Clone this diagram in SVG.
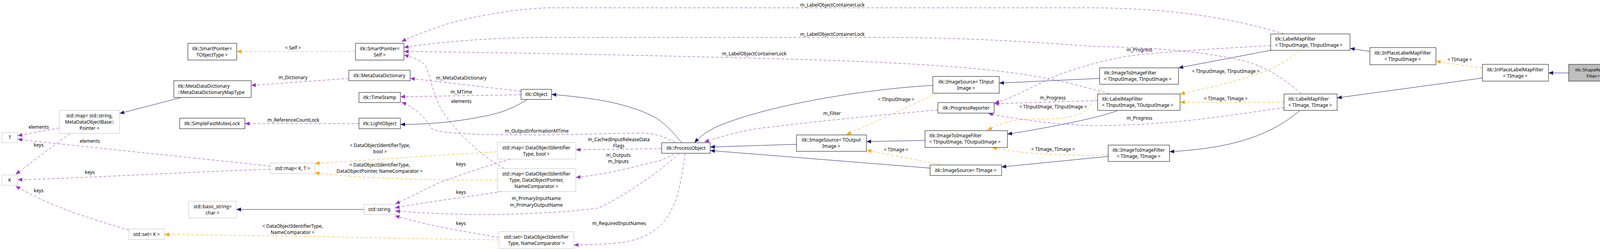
<svg xmlns="http://www.w3.org/2000/svg" width="4200" height="641" viewBox="0 0 4200 641">
<style>
text{font-family:"Noto Sans","Open Sans",sans-serif;font-size:12px;fill:#000}
.n rect{fill:#fff;stroke:#000;stroke-width:1}
.g rect{fill:#fff;stroke:#bfbfbf;stroke-width:1}
.c{text-anchor:middle}
.inh{fill:none;stroke:#191970;stroke-width:1}
.mem{fill:none;stroke:#9a32cd;stroke-width:1;stroke-dasharray:7,5}
.tpl{fill:none;stroke:#ffa500;stroke-width:1;stroke-dasharray:7,5}
</style>
<defs>
<marker id="ai" markerUnits="userSpaceOnUse" markerWidth="14" markerHeight="12" refX="12" refY="5" orient="auto"><path d="M0,0L12,5L0,10z" fill="#191970"/></marker>
<marker id="am" markerUnits="userSpaceOnUse" markerWidth="14" markerHeight="12" refX="12" refY="5" orient="auto"><path d="M0,0L12,5L0,10z" fill="#9a32cd"/></marker>
<marker id="at" markerUnits="userSpaceOnUse" markerWidth="14" markerHeight="12" refX="12" refY="5" orient="auto"><path d="M0,0L12,5L0,10z" fill="#ffa500"/></marker>
</defs>
<rect width="4200" height="641" fill="#fff"/>
<g id="connectors">
<path class="inh" marker-end="url(#ai)" d="M4016,187L3964,187"/>
<path class="inh" marker-end="url(#ai)" d="M3795,200L3423,251"/>
<path class="inh" marker-end="url(#ai)" d="M3507,132L3456,124"/>
<path class="inh" marker-end="url(#ai)" d="M3253,129L3017,174"/>
<path class="inh" marker-end="url(#ai)" d="M3328,283C3250,350 3150,380 2994,389"/>
<path class="inh" marker-end="url(#ai)" d="M2815,201L2558,213"/>
<path class="inh" marker-end="url(#ai)" d="M2862,283C2820,300 2700,325 2579,344"/>
<path class="inh" marker-end="url(#ai)" d="M2837,401L2564,428"/>
<path class="inh" marker-end="url(#ai)" d="M2368,360L2218,363"/>
<path class="inh" marker-end="url(#ai)" d="M2388,219C2250,226 2000,260 1846,320C1810,335 1790,352 1778,366"/>
<path class="inh" marker-end="url(#ai)" d="M2039,370L1818,377"/>
<path class="inh" marker-end="url(#ai)" d="M2381,431L1818,386"/>
<path class="inh" marker-end="url(#ai)" d="M1745,366C1720,335 1700,315 1677,301C1600,260 1500,250 1412,242"/>
<path class="inh" marker-end="url(#ai)" d="M1350,255C1310,280 1280,290 1240,298C1150,316 1080,319 1025,319"/>
<path class="inh" marker-end="url(#ai)" d="M464,250L306,291"/>
<path class="inh" marker-end="url(#ai)" d="M932,537L605,537"/>
<path class="tpl" marker-end="url(#at)" d="M3795,175L3676,157"/>
<path class="tpl" marker-end="url(#at)" d="M3287,262L3021,262"/>
<path class="tpl" marker-end="url(#at)" d="M3325,130C3290,160 3260,175 3246,180C3150,215 3080,228 3021,241"/>
<path class="tpl" marker-end="url(#at)" d="M2827,216C2810,240 2800,260 2787,275C2770,295 2740,304 2680,305C2620,304 2580,305 2528,334"/>
<path class="tpl" marker-end="url(#at)" d="M2837,397L2800,398C2700,398 2620,395 2540,378"/>
<path class="tpl" marker-end="url(#at)" d="M2406,422L2219,385"/>
<path class="tpl" marker-end="url(#at)" d="M2399,240L2167,345"/>
<path class="tpl" marker-end="url(#at)" d="M910,132L606,132"/>
<path class="tpl" marker-end="url(#at)" d="M1272,389L806,419"/>
<path class="tpl" marker-end="url(#at)" d="M1272,462C1050,462 900,455 806,443"/>
<path class="tpl" marker-end="url(#at)" d="M1277,615C1000,612 800,605 700,605L421,601"/>
<path class="mem" marker-end="url(#am)" d="M152,328L45,348"/>
<path class="mem" marker-end="url(#am)" d="M179,342L40,447"/>
<path class="mem" marker-end="url(#am)" d="M692,426C500,405 250,380 45,357"/>
<path class="mem" marker-end="url(#am)" d="M692,434C500,440 250,455 45,461"/>
<path class="mem" marker-end="url(#am)" d="M330,590C250,565 150,540 40,477"/>
<path class="mem" marker-end="url(#am)" d="M893,201L643,219"/>
<path class="mem" marker-end="url(#am)" d="M919,317L627,317"/>
<path class="mem" marker-end="url(#am)" d="M1334,234L1050,201"/>
<path class="mem" marker-end="url(#am)" d="M1334,243L1025,248"/>
<path class="mem" marker-end="url(#am)" d="M1728,365C1700,350 1680,342 1640,341L1400,346C1250,346 1130,345 1105,330C1090,300 1060,275 1028,262"/>
<path class="mem" marker-end="url(#am)" d="M1291,432C1230,400 1160,330 1129,279C1105,230 1100,190 1090,170C1080,155 1060,148 1034,141"/>
<path class="mem" marker-end="url(#am)" d="M3287,87C3150,45 3000,22 2800,20L1400,20C1300,25 1200,45 1146,61C1090,80 1050,95 1028,107"/>
<path class="mem" marker-end="url(#am)" d="M3331,240C3280,195 3240,175 3200,160C3080,130 2950,122 2800,119C2650,108 2500,98 2300,96L1400,96C1250,96 1100,110 1034,122"/>
<path class="mem" marker-end="url(#am)" d="M2840,240C2820,235 2750,215 2680,201C2600,185 2450,165 2100,154C1800,145 1400,136 1034,132"/>
<path class="mem" marker-end="url(#am)" d="M3253,117C3100,125 2950,135 2880,145C2800,160 2720,185 2680,205C2620,235 2580,255 2546,264"/>
<path class="mem" marker-end="url(#am)" d="M2810,258L2545,266"/>
<path class="mem" marker-end="url(#am)" d="M3287,276C3150,295 3000,322 2800,322C2700,320 2600,305 2530,291"/>
<path class="mem" marker-end="url(#am)" d="M2401,282C2250,295 2100,310 1936,330C1880,340 1840,352 1803,364"/>
<path class="mem" marker-end="url(#am)" d="M1693,381L1474,384"/>
<path class="mem" marker-end="url(#am)" d="M1726,395C1700,410 1680,415 1646,422C1580,440 1520,450 1474,455"/>
<path class="mem" marker-end="url(#am)" d="M1739,393C1700,430 1620,490 1534,533C1480,540 1420,545 1400,545C1250,555 1100,548 1012,541"/>
<path class="mem" marker-end="url(#am)" d="M1754,393C1745,460 1735,510 1721,533C1700,580 1660,615 1579,623C1540,627 1500,628 1469,628"/>
<path class="mem" marker-end="url(#am)" d="M1307,408C1230,430 1160,455 1120,470C1070,495 1040,510 1012,523"/>
<path class="mem" marker-end="url(#am)" d="M1285,491C1200,505 1100,516 1011,533"/>
<path class="mem" marker-end="url(#am)" d="M1277,609C1200,595 1100,580 1011,553"/>
</g>
<g id="edge-labels" class="c">
<text x="3737" y="157">&lt; TImage &gt;</text>
<text x="3138" y="257">&lt; TImage, TImage &gt;</text>
<text x="3138" y="187">&lt; TInputImage, TInputImage &gt;</text>
<text x="2696" y="278">&lt; TInputImage, TInputImage &gt;</text>
<text x="2696" y="387">&lt; TImage, TImage &gt;</text>
<text x="2294" y="388">&lt; TImage &gt;</text>
<text x="2294" y="259">&lt; TInputImage &gt;</text>
<text x="750" y="127">&lt; Self &gt;</text>
<text x="973" y="377">&lt; DataObjectIdentifierType,</text>
<text x="973" y="393">bool &gt;</text>
<text x="972" y="427">&lt; DataObjectIdentifierType,</text>
<text x="972" y="443">DataObjectPointer, NameComparator &gt;</text>
<text x="749" y="584">&lt; DataObjectIdentifierType,</text>
<text x="749" y="600">NameComparator &gt;</text>
<text x="99" y="330">elements</text>
<text x="99" y="376">keys</text>
<text x="230" y="366">elements</text>
<text x="230" y="446">keys</text>
<text x="99" y="493">keys</text>
<text x="750" y="203">m_Dictionary</text>
<text x="751" y="312">m_ReferenceCountLock</text>
<text x="1181" y="204">m_MetaDataDictionary</text>
<text x="1181" y="240">m_MTime</text>
<text x="1181" y="264">elements</text>
<text x="1374" y="340">m_OutputInformationMTime</text>
<text x="2131" y="17">m_LabelObjectContainerLock</text>
<text x="2131" y="92">m_LabelObjectContainerLock</text>
<text x="1931" y="142">m_LabelObjectContainerLock</text>
<text x="2917" y="132">m_Progress</text>
<text x="2695" y="255">m_Progress</text>
<text x="2917" y="307">m_Progress</text>
<text x="2130" y="295">m_Filter</text>
<text x="1584" y="362">m_CachedInputReleaseData</text>
<text x="1584" y="378">Flags</text>
<text x="1583" y="402">m_Outputs</text>
<text x="1583" y="418">m_Inputs</text>
<text x="1373" y="513">m_PrimaryInputName</text>
<text x="1373" y="530">m_PrimaryOutputName</text>
<text x="1180" y="425">keys</text>
<text x="1180" y="497">keys</text>
<text x="1180" y="577">keys</text>
<text x="1585" y="577">m_RequiredInputNames</text>
</g>
<g id="n-shape" class="n"><rect x="4016" y="165" width="179" height="43" style="fill:#bfbfbf"/><text class="c" x="4105" y="183" style="font-size:11.5px">itk::ShapeRelabelLabelMap</text><text class="c" x="4105" y="199" style="font-size:11.5px">Filter&lt; TImage &gt;</text></g>
<g id="n-inplace-timage" class="n"><rect x="3795" y="165" width="169" height="43"/><text class="c" x="3879" y="183">itk::InPlaceLabelMapFilter</text><text class="c" x="3879" y="199">&lt; TImage &gt;</text></g>
<g id="n-inplace-tinput" class="n"><rect x="3507" y="122" width="169" height="44"/><text class="c" x="3591" y="140">itk::InPlaceLabelMapFilter</text><text class="c" x="3591" y="156">&lt; TInputImage &gt;</text></g>
<g id="n-lmf-ii" class="n"><rect x="3253" y="87" width="203" height="42"/><text x="3264" y="104">itk::LabelMapFilter</text><text x="3264" y="120">&lt; TInputImage, TInputImage &gt;</text></g>
<g id="n-lmf-tt" class="n"><rect x="3287" y="241" width="136" height="42"/><text x="3298" y="258">itk::LabelMapFilter</text><text x="3298" y="274">&lt; TImage, TImage &gt;</text></g>
<g id="n-lmf-io" class="n"><rect x="2810" y="241" width="211" height="42"/><text x="2821" y="258">itk::LabelMapFilter</text><text x="2821" y="274">&lt; TInputImage, TOutputImage &gt;</text></g>
<g id="n-itif-ii" class="n"><rect x="2815" y="174" width="202" height="42"/><text x="2826" y="191">itk::ImageToImageFilter</text><text x="2826" y="207">&lt; TInputImage, TInputImage &gt;</text></g>
<g id="n-itif-tt" class="n"><rect x="2837" y="372" width="157" height="42"/><text class="c" x="2915" y="389">itk::ImageToImageFilter</text><text class="c" x="2915" y="405">&lt; TImage, TImage &gt;</text></g>
<g id="n-itif-io" class="n"><rect x="2368" y="335" width="211" height="43"/><text x="2379" y="352">itk::ImageToImageFilter</text><text x="2379" y="368">&lt; TInputImage, TOutputImage &gt;</text></g>
<g id="n-is-tinput" class="n"><rect x="2388" y="196" width="170" height="43"/><text class="c" x="2473" y="214">itk::ImageSource&lt; TInput</text><text class="c" x="2473" y="230">Image &gt;</text></g>
<g id="n-progress" class="n"><rect x="2401" y="263" width="144" height="27"/><text class="c" x="2473" y="281">itk::ProgressReporter</text></g>
<g id="n-is-timage" class="n"><rect x="2381" y="423" width="183" height="27"/><text class="c" x="2472" y="441">itk::ImageSource&lt; TImage &gt;</text></g>
<g id="n-is-toutput" class="n"><rect x="2039" y="346" width="179" height="42"/><text class="c" x="2128" y="363">itk::ImageSource&lt; TOutput</text><text class="c" x="2128" y="379">Image &gt;</text></g>
<g id="n-processobject" class="n"><rect x="1694" y="366" width="124" height="27"/><text class="c" x="1756" y="384">itk::ProcessObject</text></g>
<g id="n-object" class="n"><rect x="1334" y="229" width="78" height="26"/><text class="c" x="1373" y="246">itk::Object</text></g>
<g id="n-sp-self" class="n"><rect x="910" y="111" width="124" height="43"/><text class="c" x="972" y="129">itk::SmartPointer&lt;</text><text class="c" x="972" y="145">Self &gt;</text></g>
<g id="n-mdd" class="n"><rect x="893" y="180" width="157" height="27"/><text class="c" x="971" y="198">itk::MetaDataDictionary</text></g>
<g id="n-timestamp" class="n"><rect x="919" y="237" width="106" height="26"/><text class="c" x="972" y="254">itk::TimeStamp</text></g>
<g id="n-lightobject" class="n"><rect x="919" y="303" width="106" height="27"/><text class="c" x="972" y="321">itk::LightObject</text></g>
<g id="n-sp-tobj" class="n"><rect x="481" y="111" width="125" height="43"/><text class="c" x="543" y="129">itk::SmartPointer&lt;</text><text class="c" x="543" y="145">TObjectType &gt;</text></g>
<g id="n-mddmap" class="n"><rect x="445" y="207" width="198" height="43"/><text x="455" y="225">itk::MetaDataDictionary</text><text x="455" y="241">::MetaDataDictionaryMapType</text></g>
<g id="n-mutex" class="n"><rect x="460" y="303" width="167" height="27"/><text class="c" x="543" y="321">itk::SimpleFastMutexLock</text></g>
<g id="n-map-str" class="g"><rect x="152" y="283" width="154" height="59"/><text class="c" x="229" y="301">std::map&lt; std::string,</text><text class="c" x="229" y="317">MetaDataObjectBase::</text><text class="c" x="229" y="333">Pointer &gt;</text></g>
<g id="n-T" class="g"><rect x="5" y="340" width="40" height="26"/><text class="c" x="25" y="357">T</text></g>
<g id="n-K" class="g"><rect x="5" y="449" width="40" height="26"/><text class="c" x="25" y="466">K</text></g>
<g id="n-basicstring" class="g"><rect x="483" y="516" width="122" height="43"/><text class="c" x="544" y="534">std::basic_string&lt;</text><text class="c" x="544" y="550">char &gt;</text></g>
<g id="n-setK" class="g"><rect x="330" y="587" width="91" height="27"/><text class="c" x="375" y="605">std::set&lt; K &gt;</text></g>
<g id="n-mapKT" class="g"><rect x="692" y="418" width="114" height="27"/><text class="c" x="749" y="436">std::map&lt; K, T &gt;</text></g>
<g id="n-string" class="g"><rect x="932" y="524" width="79" height="26"/><text class="c" x="971" y="541">std::string</text></g>
<g id="n-map-bool" class="g"><rect x="1273" y="365" width="201" height="43"/><text class="c" x="1373" y="383">std::map&lt; DataObjectIdentifier</text><text class="c" x="1373" y="399">Type, bool &gt;</text></g>
<g id="n-map-dop" class="g"><rect x="1273" y="432" width="201" height="59"/><text class="c" x="1373" y="450">std::map&lt; DataObjectIdentifier</text><text class="c" x="1373" y="466">Type, DataObjectPointer,</text><text class="c" x="1373" y="482">NameComparator &gt;</text></g>
<g id="n-set-doi" class="g"><rect x="1277" y="594" width="192" height="43"/><text class="c" x="1373" y="612">std::set&lt; DataObjectIdentifier</text><text class="c" x="1373" y="628">Type, NameComparator &gt;</text></g>
</svg>
